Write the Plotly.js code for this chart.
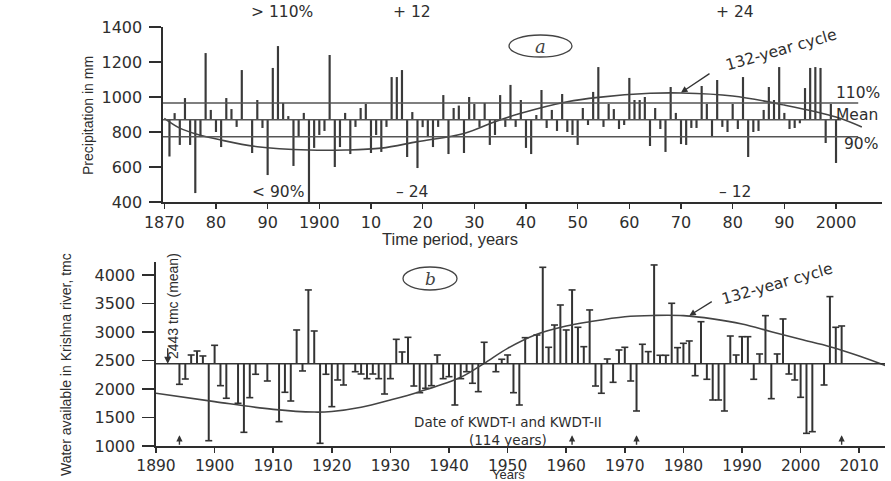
<!DOCTYPE html>
<html>
<head>
<meta charset="utf-8">
<script src="https://cdn.plot.ly/plotly-3.0.1.min.js"></script>
<style>html,body{margin:0;padding:0;background:#fff;}</style>
</head>
<body>
<div id="chart" style="width:891px;height:481px;"></div>
<script>
// ---------- Panel (a): annual precipitation (mm) ----------
const yearsA = [1871,1872,1873,1874,1875,1876,1877,1878,1879,1880,1881,1882,1883,1884,1885,
  1887,1888,1889,1890,1891,1892,1893,1894,1895,1896,1897,1898,1899,1900,
  1901,1902,1903,1904,1905,1906,1907,1908,1909,1910,1911,1912,1913,1914,1915,1916,1917,1918,1919,1920,
  1921,1922,1923,1924,1925,1926,1927,1928,1929,1930,1931,1932,1933,1934,1935,1936,1937,1938,1939,1940,
  1941,1942,1943,1944,1945,1946,1947,1948,1949,1950,1951,1952,1953,1954,1955,1956,1957,1958,1959,1960,
  1961,1962,1963,1964,1965,1966,1967,1968,1969,1970,1971,1972,1973,1974,1975,1976,1977,1978,1979,1980,
  1981,1982,1983,1984,1985,1986,1987,1988,1989,1990,1991,1992,1993,1994,1995,1996,1997,1998,1999,2000];
const rainA = [660,908,726,994,726,451,771,1251,926,800,714,994,931,829,1154,
  680,983,823,554,1166,1291,966,891,606,771,909,400,709,783,
  806,1240,600,714,909,674,829,937,960,680,783,686,829,1114,1114,1154,657,914,594,828,
  771,714,829,1011,674,937,951,680,1000,960,829,966,726,783,1011,829,1069,829,983,709,
  674,897,1040,823,926,806,1017,800,783,726,937,840,1029,1171,829,960,931,817,840,1109,
  983,983,1000,720,937,817,686,1057,909,731,726,823,823,1063,960,771,1097,829,800,960,
  817,1114,657,800,806,926,1057,983,1171,909,817,823,850,1051,1166,1171,1166,737,960,623];
const meanA = 870, upperA = 965, lowerA = 773;
const cycleYearsA = [1870,1873,1876,1881,1888,1898,1905,1912,1919,1928,1934,1939,1948,1954,1964,1970,1980,1990,2000,2005];
const cycleA      = [878, 822, 790, 754, 716, 697, 697, 708, 745, 792, 859, 907, 973, 998, 1021,1023,1006,954, 886, 829];
const tickValsA = [1870,1880,1890,1900,1910,1920,1930,1940,1950,1960,1970,1980,1990,2000];
const tickTextA = ["1870","80","90","1900","10","20","30","40","50","60","70","80","90","2000"];

// ---------- Panel (b): water available in Krishna river (tmc) ----------
const yearsB = [1894,1895,1896,1897,1898,1899,1900,1901,1902,1904,1905,1906,1907,1909,1911,1912,1913,1914,1915,1916,
  1917,1918,1919,1920,1921,1922,1924,1925,1926,1927,1928,1929,1930,1931,1932,1933,1934,1935,1936,1937,
  1938,1939,1940,1941,1942,1943,1944,1945,1946,1948,1949,1950,1951,1952,1953,1955,1956,1957,1958,1959,
  1960,1961,1962,1963,1964,1965,1966,1967,1968,1969,1970,1971,1972,1973,1974,1975,1976,1977,1978,1979,
  1980,1981,1982,1983,1984,1985,1986,1987,1988,1989,1990,1991,1992,1993,1994,1995,1996,1997,1998,1999,
  2000,2001,2002,2004,2005,2006,2007];
const waterB = [2082,2175,2596,2666,2579,1093,2766,2058,1837,1749,1240,1848,2258,2140,1427,1942,1789,3035,2316,3737,
  3017,1047,2258,1690,2158,2070,2303,2263,2181,2263,2181,1912,2181,2871,2649,2906,2052,1935,2012,2058,
  2596,2181,2216,1719,2181,2303,2100,1953,2819,2303,2521,2596,1935,1719,2900,2947,4134,2731,3122,3473,
  3035,3737,3082,2742,3386,2052,1925,2526,2117,2684,2731,2140,1614,2784,2655,4175,2591,2591,3503,2725,
  2801,2842,2233,3180,2170,1807,1807,1614,2929,2596,2917,2917,2170,2614,3286,1830,2614,3228,2263,2158,
  1854,1222,1251,2070,3620,3082,3105];
const meanB = 2443;
const cycleYearsB = [1890,1900,1910,1917,1920,1925,1930,1935,1942,1946,1950,1955,1960,1964,1970,1975,1980,1985,1990,1995,2000,2005,2010,2015];
const cycleB      = [1924,1778,1643,1595,1605,1679,1807,1953,2205,2450,2713,2960,3105,3180,3268,3290,3286,3230,3140,3005,2871,2742,2579,2391];
const awardYearsB = [1894,1961,1972,2007];

// ---------- helpers for layout positions ----------
const W = 891, H = 481;
const PX = x => x / W, PY = y => 1 - y / H;
const INK = '#2e2e2e';
const tickFont = {family: 'DejaVu Sans, Liberation Sans, Arial', size: 16, color: INK};

const traces = [
  {type: 'bar', x: yearsA, y: rainA.map(v => v - meanA), base: meanA, width: 0.42,
   marker: {color: '#3a3a3a', line: {width: 0}}, xaxis: 'x', yaxis: 'y'},
  {type: 'scatter', mode: 'lines', x: cycleYearsA, y: cycleA, line: {color: '#444', width: 1.6, shape: 'spline'},
   xaxis: 'x', yaxis: 'y'},
  {type: 'bar', x: yearsB, y: waterB.map(v => v - meanB), base: meanB, width: 0.34,
   marker: {color: '#333', line: {width: 0}}, xaxis: 'x2', yaxis: 'y2'},
  {type: 'scatter', mode: 'markers', x: yearsB, y: waterB, xaxis: 'x2', yaxis: 'y2',
   marker: {symbol: 'line-ew', size: 5, line: {color: '#333', width: 1.6}}},
  {type: 'scatter', mode: 'lines', x: cycleYearsB, y: cycleB, line: {color: '#444', width: 1.6, shape: 'spline'},
   xaxis: 'x2', yaxis: 'y2'}
];

const axisCommon = {showgrid: false, zeroline: false, showline: true, linecolor: INK, linewidth: 1.6,
  ticks: 'outside', tickcolor: INK, tickwidth: 1.5, tickfont: tickFont};

const layout = {
  width: W, height: H,
  margin: {l: 0, r: 0, t: 0, b: 0},
  paper_bgcolor: '#fff', plot_bgcolor: 'rgba(0,0,0,0)',
  showlegend: false, barmode: 'overlay',
  xaxis: Object.assign({}, axisCommon, {domain: [PX(163), PX(882)], range: [1869.75, 2008.9],
    tickvals: tickValsA, ticktext: tickTextA, ticklen: 5, anchor: 'y', tickangle: 0}),
  yaxis: Object.assign({}, axisCommon, {domain: [PY(202), PY(27)], range: [400, 1400],
    tickvals: [400,600,800,1000,1200,1400], ticklen: 12, ticklabelstandoff: 4, anchor: 'x'}),
  xaxis2: Object.assign({}, axisCommon, {domain: [PX(156), PX(885)], range: [1890, 2014.4],
    tickvals: [1890,1900,1910,1920,1930,1940,1950,1960,1970,1980,1990,2000,2010], ticklen: 5, anchor: 'y2',
    tickangle: 0,
    tickfont: {family: 'DejaVu Sans, Liberation Sans, Arial', size: 15.5, color: INK}}),
  yaxis2: Object.assign({}, axisCommon, {domain: [PY(446), PY(262)], range: [1000, 4227],
    tickvals: [1000,1500,2000,2500,3000,3500,4000], ticklen: 12, ticklabelstandoff: 4, anchor: 'x2'}),
  shapes: [
    {type: 'line', xref: 'x', yref: 'y', x0: 1869.75, x1: 2004.3, y0: upperA, y1: upperA, line: {color: '#555', width: 1.5}},
    {type: 'line', xref: 'x', yref: 'y', x0: 1869.75, x1: 2001, y0: meanA, y1: meanA, line: {color: '#555', width: 1.5}},
    {type: 'line', xref: 'x', yref: 'y', x0: 1869.75, x1: 2004.3, y0: lowerA, y1: lowerA, line: {color: '#555', width: 1.5}},
    {type: 'line', xref: 'x2', yref: 'y2', x0: 1890, x1: 2014.4, y0: meanB, y1: meanB, line: {color: '#333', width: 1.6}},
    {type: 'circle', xref: 'paper', yref: 'paper', x0: PX(509), x1: PX(572), y0: PY(57), y1: PY(35), line: {color: '#444', width: 1.3}},
    {type: 'circle', xref: 'paper', yref: 'paper', x0: PX(403), x1: PX(457), y0: PY(290), y1: PY(267), line: {color: '#444', width: 1.3}}
  ],
  annotations: []
};

function txt(text, x, y, opts) {
  return Object.assign({text: text, xref: 'paper', yref: 'paper', x: PX(x), y: PY(y), showarrow: false,
    xanchor: 'center', yanchor: 'middle',
    font: {family: 'DejaVu Sans, Liberation Sans, Arial', size: 15.5, color: INK}}, opts || {});
}
const narrow = 'Liberation Sans Narrow, Liberation Sans, Arial';
const A = layout.annotations;
// panel (a)
A.push(txt('&gt; 110%', 282, 12));
A.push(txt('+ 12', 412, 12));
A.push(txt('+ 24', 735, 12));
A.push(txt('&lt; 90%', 278, 192));
A.push(txt('\u2013 24', 412, 192));
A.push(txt('\u2013 12', 735, 192));
A.push(txt('110%', 834, 93, {xanchor: 'left'}));
A.push(txt('Mean', 834, 115, {xanchor: 'left'}));
A.push(txt('90%', 842, 144, {xanchor: 'left'}));
A.push(txt('132-year cycle', 781, 50, {textangle: -16}));
A.push({text: '', xref: 'x', yref: 'y', x: 1970, y: 1025, ax: 30, ay: -20, showarrow: true,
  arrowhead: 2, arrowsize: 1, arrowwidth: 1.3, arrowcolor: '#333'});
A.push(txt('a', 540, 46, {font: {family: 'DejaVu Serif, serif', size: 18, color: '#444', style: 'italic'}}));
A.push(txt('Precipitation in mm', 88, 116, {textangle: -90, font: {family: 'Liberation Sans, Arial', size: 14, color: INK}}));
A.push(txt('Time period, years', 450, 239, {font: {family: 'Liberation Sans, Arial', size: 16.5, color: INK}}));
// panel (b)
A.push(txt('2443 tmc (mean)', 173, 306, {textangle: -90, font: {family: narrow, size: 14, color: INK}}));
A.push({text: '', xref: 'x2', yref: 'y2', x: 1892, y: meanB, ax: 0, ay: -17, showarrow: true,
  arrowhead: 2, arrowsize: 1, arrowwidth: 1.4, arrowcolor: '#333'});
A.push(txt('b', 430, 279, {font: {family: 'DejaVu Serif, serif', size: 17, color: '#444', style: 'italic'}}));
A.push(txt('Date of KWDT-I and KWDT-II<br>(114 years)', 508, 430.5,
  {font: {family: 'DejaVu Sans, Arial', size: 13.5, color: INK}}));
awardYearsB.forEach(yr => A.push({text: '', xref: 'x2', yref: 'y2', x: yr, y: 1190, ax: 0, ay: 11, showarrow: true,
  arrowhead: 2, arrowsize: 0.9, arrowwidth: 1.4, arrowcolor: '#333'}));
A.push(txt('132-year cycle', 777, 284, {textangle: -16}));
A.push({text: '', xref: 'x2', yref: 'y2', x: 1981, y: 3286, ax: 24, ay: -15, showarrow: true,
  arrowhead: 2, arrowsize: 1, arrowwidth: 1.3, arrowcolor: '#333'});
A.push(txt('Water available in Krishna river, tmc', 66, 365, {textangle: -90, font: {family: narrow, size: 14, color: INK}}));
A.push(txt('Years', 509, 474, {font: {family: 'Liberation Sans, Arial', size: 13, color: INK}}));

Plotly.newPlot('chart', traces, layout, {staticPlot: true, displayModeBar: false});
</script>
</body>
</html>
